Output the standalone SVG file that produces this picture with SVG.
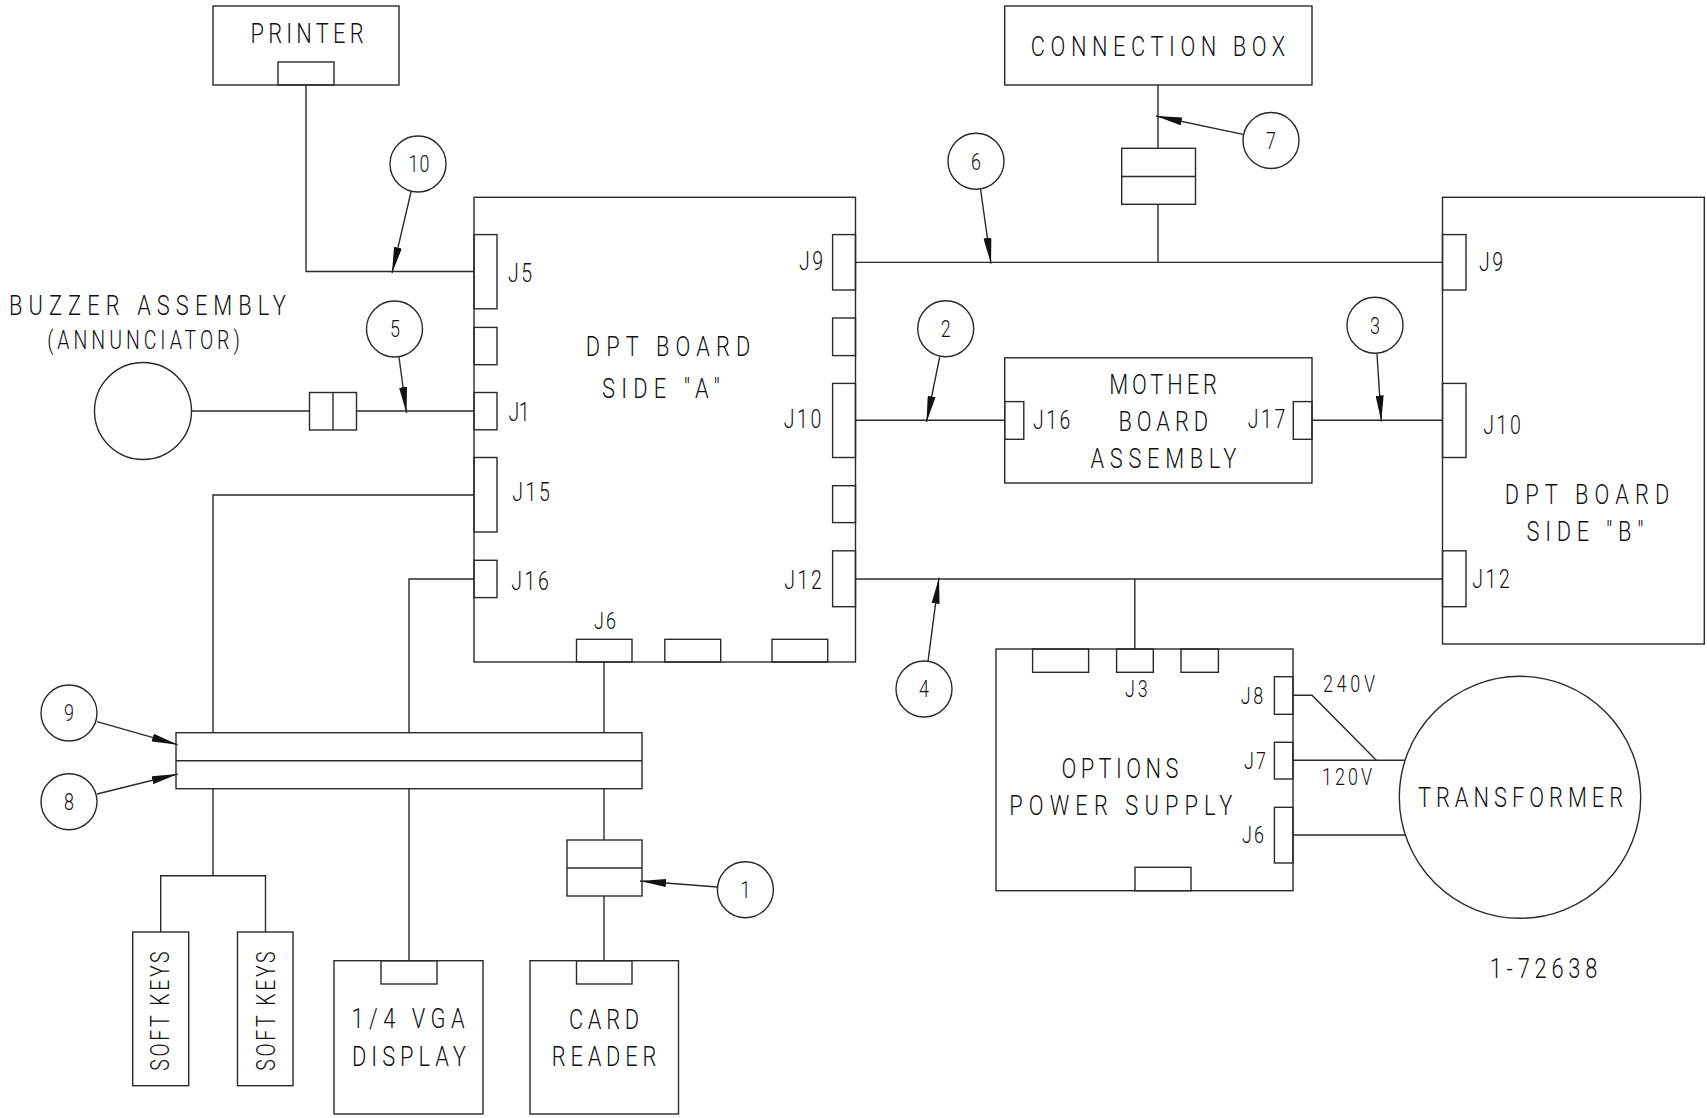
<svg xmlns="http://www.w3.org/2000/svg" width="1707" height="1118" viewBox="0 0 1707 1118">
<style>
rect,circle,ellipse,line,polyline{fill:none;stroke:#2a2a2a;stroke-width:1.4}
text{font-family:Roboto,"Liberation Sans",sans-serif;font-weight:300;fill:#111;text-anchor:middle}
.a{font-size:28px}.b{font-size:25px}.c{font-size:23px}
.ar{marker-end:url(#h)}
</style>
<defs><marker id="h" markerUnits="userSpaceOnUse" markerWidth="26" markerHeight="8" refX="26" refY="4" orient="auto"><path d="M0,0L26,4L0,8z" fill="#111"/></marker></defs>
<rect width="1707" height="1118" style="fill:#fff;stroke:none"/>
<g id="connectors">
<polyline points="306,85 306,271.5 474,271.5"/>
<line x1="191.500" y1="411" x2="309.500" y2="411"/><line x1="356.500" y1="411" x2="474" y2="411"/>
<polyline points="474,495 213,495 213,732.700"/>
<polyline points="474,579 409,579 409,732.700"/>
<line x1="604" y1="662" x2="604" y2="732.700"/>
<line x1="213" y1="788.700" x2="213" y2="875.700"/>
<polyline points="160.700,932 160.700,875.700 265.500,875.700 265.500,932"/>
<line x1="409" y1="788.700" x2="409" y2="960.700"/>
<line x1="604" y1="788.700" x2="604" y2="840"/><line x1="604" y1="896" x2="604" y2="960.700"/>
<line x1="1158" y1="85" x2="1158" y2="148.300"/><line x1="1158" y1="204.300" x2="1158" y2="262.400"/>
<line x1="855.500" y1="262.400" x2="1442.500" y2="262.400"/>
<line x1="855.500" y1="420.300" x2="1004.700" y2="420.300"/><line x1="1312" y1="420.300" x2="1442.500" y2="420.300"/>
<line x1="855.500" y1="579" x2="1442.500" y2="579"/>
<line x1="1134.800" y1="579" x2="1134.800" y2="649"/>
<polyline points="1293,695.300 1312,695.300 1376.300,760.300"/>
<line x1="1293" y1="760.300" x2="1404.800" y2="760.300"/>
<line x1="1293" y1="835" x2="1405" y2="835"/>
<line class="ar" x1="411" y1="192" x2="392" y2="273"/>
<line class="ar" x1="399" y1="357" x2="406.500" y2="413"/>
<line class="ar" x1="97" y1="721.700" x2="177.700" y2="744.700"/>
<line class="ar" x1="97" y1="794" x2="177.700" y2="774"/>
<line class="ar" x1="717.400" y1="887" x2="640" y2="881"/>
<line class="ar" x1="980.600" y1="189.500" x2="991" y2="263.700"/>
<line class="ar" x1="1243" y1="134.400" x2="1156" y2="116"/>
<line class="ar" x1="939.600" y1="357.400" x2="926.500" y2="422"/>
<line class="ar" x1="1377" y1="354" x2="1381.300" y2="421.500"/>
<line class="ar" x1="928" y1="661.400" x2="939" y2="577.700"/>
</g>
<g id="printer"><rect x="213" y="6" width="186" height="79"/><rect x="278" y="62" width="56" height="23"/><text class="a" transform="translate(307,42.500) scale(.78,1)" textLength="145">PRINTER</text></g>
<g id="connection-box"><rect x="1004.700" y="6" width="307.300" height="79"/><text class="a" transform="translate(1158,55.500) scale(.78,1)" textLength="326">CONNECTION BOX</text></g>
<g id="connection-box-plug"><rect x="1121.700" y="148.300" width="73.800" height="56"/><line x1="1121.700" y1="176.500" x2="1195.500" y2="176.500"/></g>
<g id="dpt-side-a"><rect x="474" y="197.300" width="381.500" height="464.700"/>
<rect x="474" y="234.600" width="23" height="74.200"/><rect x="474" y="327.400" width="23" height="37.300"/><rect x="474" y="392.500" width="23" height="37.300"/><rect x="474" y="457.500" width="23" height="74.500"/><rect x="474" y="560.300" width="23" height="37.300"/>
<rect x="832.600" y="234.600" width="22.900" height="55.400"/><rect x="832.600" y="318" width="22.900" height="37.600"/><rect x="832.600" y="383.400" width="22.900" height="74.100"/><rect x="832.600" y="485.700" width="22.900" height="36.900"/><rect x="832.600" y="550.800" width="22.900" height="55.900"/>
<rect x="576.500" y="639.300" width="55.500" height="22.700"/><rect x="664.800" y="639.300" width="55.900" height="22.700"/><rect x="772" y="639.300" width="55.700" height="22.700"/>
<text class="b" transform="translate(520,282) scale(.78,1)" textLength="31">J5</text><text class="b" transform="translate(519,421) scale(.78,1)" textLength="27">J1</text><text class="b" transform="translate(531,501) scale(.78,1)" textLength="48">J15</text><text class="b" transform="translate(530,590) scale(.78,1)" textLength="48">J16</text>
<text class="b" transform="translate(811,270) scale(.78,1)" textLength="31">J9</text><text class="b" transform="translate(802.500,428) scale(.78,1)" textLength="48">J10</text><text class="b" transform="translate(803,589) scale(.78,1)" textLength="48">J12</text><text class="c" transform="translate(605,629) scale(.78,1)" textLength="28">J6</text>
<text class="a" transform="translate(668,356) scale(.78,1)" textLength="211">DPT BOARD</text><text class="a" transform="translate(661,398) scale(.78,1)" textLength="151">SIDE "A"</text></g>
<g id="dpt-side-b"><rect x="1442.500" y="197.300" width="261.800" height="446.700"/>
<rect x="1442.500" y="234.600" width="23.500" height="55.400"/><rect x="1442.500" y="383.400" width="23.500" height="74.100"/><rect x="1442.500" y="550.800" width="23.500" height="55.900"/>
<text class="b" transform="translate(1491,271) scale(.78,1)" textLength="31">J9</text><text class="b" transform="translate(1502,434) scale(.78,1)" textLength="48">J10</text><text class="b" transform="translate(1491,588) scale(.78,1)" textLength="48">J12</text>
<text class="a" transform="translate(1587,504) scale(.78,1)" textLength="211">DPT BOARD</text><text class="a" transform="translate(1585,541) scale(.78,1)" textLength="150">SIDE "B"</text></g>
<g id="mother-board"><rect x="1004.700" y="357.800" width="307.300" height="125.200"/><rect x="1004.700" y="401.600" width="19.100" height="37.700"/><rect x="1293.300" y="401.600" width="18.700" height="37.700"/>
<text class="b" transform="translate(1051.700,429) scale(.78,1)" textLength="48">J16</text><text class="b" transform="translate(1266.500,428) scale(.78,1)" textLength="48">J17</text>
<text class="a" transform="translate(1163,394) scale(.78,1)" textLength="138">MOTHER</text><text class="a" transform="translate(1163.300,430.700) scale(.78,1)" textLength="115">BOARD</text><text class="a" transform="translate(1163.500,467.500) scale(.78,1)" textLength="187">ASSEMBLY</text></g>
<g id="buzzer"><ellipse cx="143" cy="411" rx="48.500" ry="48.500"/><text class="a" transform="translate(147.500,314.500) scale(.78,1)" textLength="355">BUZZER ASSEMBLY</text><text class="b" transform="translate(143.500,349) scale(.78,1)" textLength="247">(ANNUNCIATOR)</text></g>
<g id="buzzer-plug"><rect x="309.500" y="392.500" width="47" height="37.500"/><line x1="333" y1="392.500" x2="333" y2="430"/></g>
<g id="bus"><rect x="176" y="732.700" width="466" height="56"/><line x1="176" y1="760.700" x2="642" y2="760.700"/></g>
<g id="soft-keys-1"><rect x="132.700" y="932" width="56" height="153.700"/><text class="b" transform="translate(168.500,1011) rotate(-90) scale(.78,1)" textLength="153">SOFT KEYS</text></g>
<g id="soft-keys-2"><rect x="237.500" y="932" width="55.500" height="153.700"/><text class="b" transform="translate(275.300,1011) rotate(-90) scale(.78,1)" textLength="153">SOFT KEYS</text></g>
<g id="vga-display"><rect x="334" y="960.700" width="149" height="153.300"/><rect x="381" y="960.700" width="56" height="23.300"/><text class="a" transform="translate(408,1028) scale(.78,1)" textLength="145">1/4 VGA</text><text class="a" transform="translate(409,1066) scale(.78,1)" textLength="146">DISPLAY</text></g>
<g id="card-reader"><rect x="530" y="960.700" width="148.500" height="153.300"/><rect x="576.500" y="960.700" width="55.500" height="23.300"/><text class="a" transform="translate(604,1029) scale(.78,1)" textLength="90">CARD</text><text class="a" transform="translate(604,1066) scale(.78,1)" textLength="134">READER</text></g>
<g id="card-plug"><rect x="567" y="840" width="75" height="56"/><line x1="567" y1="868" x2="642" y2="868"/></g>
<g id="options-power-supply"><rect x="996" y="649" width="297" height="241.700"/>
<rect x="1032.600" y="649" width="56" height="23.300"/><rect x="1116.600" y="649" width="36.700" height="23.300"/><rect x="1181" y="649" width="37.400" height="23.300"/><rect x="1135" y="867.300" width="56" height="23.400"/>
<rect x="1274.400" y="676.700" width="18.600" height="37.600"/><rect x="1274.400" y="742.300" width="18.600" height="36.700"/><rect x="1274.400" y="807.300" width="18.600" height="55.700"/>
<text class="c" transform="translate(1136.400,697) scale(.78,1)" textLength="29">J3</text><text class="c" transform="translate(1252,704) scale(.78,1)" textLength="29">J8</text><text class="c" transform="translate(1255,769) scale(.78,1)" textLength="28">J7</text><text class="c" transform="translate(1253,843) scale(.78,1)" textLength="28">J6</text>
<text class="a" transform="translate(1120,777.700) scale(.78,1)" textLength="150">OPTIONS</text><text class="a" transform="translate(1120.700,814.700) scale(.78,1)" textLength="286">POWER SUPPLY</text></g>
<g id="transformer"><ellipse cx="1520" cy="797.300" rx="120.700" ry="121"/><text class="a" transform="translate(1520.500,807) scale(.78,1)" textLength="263">TRANSFORMER</text></g>
<text class="c" transform="translate(1349,692) scale(.78,1)" textLength="67">240V</text><text class="c" transform="translate(1347,785) scale(.78,1)" textLength="64">120V</text>
<text class="a" transform="translate(1543.500,978) scale(.78,1)" textLength="138">1-72638</text>
<g id="callout-10"><circle cx="418" cy="164" r="28"/><text class="c" transform="translate(419,172) scale(.78,1)" textLength="27">10</text></g>
<g id="callout-5"><circle cx="394.500" cy="329" r="28"/><text class="c" transform="translate(395,337) scale(.78,1)">5</text></g>
<g id="callout-9"><circle cx="69" cy="713" r="28"/><text class="c" transform="translate(69,721) scale(.78,1)">9</text></g>
<g id="callout-8"><circle cx="69" cy="801.700" r="28"/><text class="c" transform="translate(69,810) scale(.78,1)">8</text></g>
<g id="callout-1"><circle cx="745.400" cy="889.700" r="28"/><text class="c" transform="translate(745.400,898) scale(.78,1)">1</text></g>
<g id="callout-6"><circle cx="976" cy="161.300" r="28"/><text class="c" transform="translate(976,169.500) scale(.78,1)">6</text></g>
<g id="callout-7"><circle cx="1271" cy="140.500" r="28"/><text class="c" transform="translate(1271,148.500) scale(.78,1)">7</text></g>
<g id="callout-2"><circle cx="945.700" cy="328.700" r="28"/><text class="c" transform="translate(945.700,337) scale(.78,1)">2</text></g>
<g id="callout-3"><circle cx="1375" cy="325.300" r="28"/><text class="c" transform="translate(1375,333.500) scale(.78,1)">3</text></g>
<g id="callout-4"><circle cx="924" cy="689" r="28"/><text class="c" transform="translate(924,697) scale(.78,1)">4</text></g>
</svg>
